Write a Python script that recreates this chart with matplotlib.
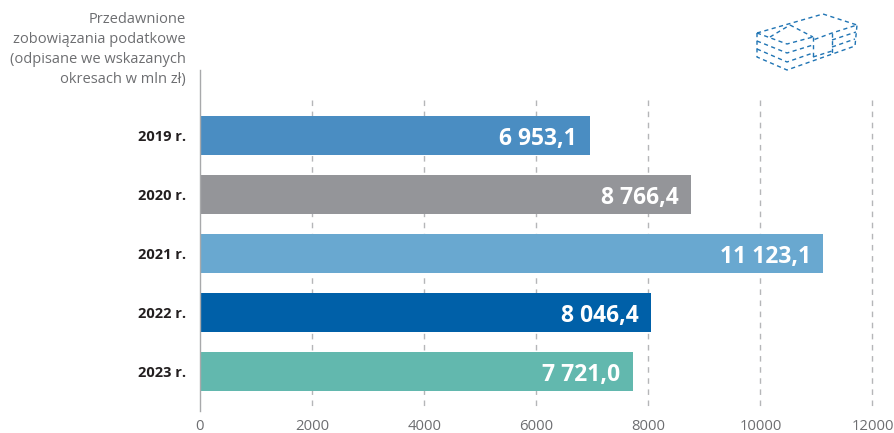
import matplotlib
matplotlib.use('Agg')
import matplotlib.pyplot as plt

plt.rcParams['font.family'] = ['Open Sans', 'DejaVu Sans']

years = ['2019 r.', '2020 r.', '2021 r.', '2022 r.', '2023 r.']
values = [6953.1, 8766.4, 11123.1, 8046.4, 7721.0]
value_labels = ['6 953,1', '8 766,4', '11 123,1', '8 046,4', '7 721,0']
bar_colors = ['#4A8DC2', '#949599', '#69A8D0', '#0060A8', '#62B8AE']
xticks = [0, 2000, 4000, 6000, 8000, 10000, 12000]
header = 'Przedawnione\nzobowiązania podatkowe\n(odpisane we wskazanych\nokresach w mln zł)'

W, H = 895, 433
y0 = 135.9
fig = plt.figure(figsize=(W / 100, H / 100), dpi=100)
ax = fig.add_axes([200 / W, (H - 411) / H, 672.5 / W, 341 / H])

ax.set_xlim(0, 12000)
ax.set_ylim((411 - y0) / 59, (70 - y0) / 59)

ax.vlines(xticks[1:], (100 - y0) / 59, ax.get_ylim()[0], color='#B5B6B8',
	linewidth=1, linestyles=(0, (4, 4)), zorder=1, clip_on=False)
ax.barh(range(len(years)), values, height=39 / 59, color=bar_colors, zorder=2)

for i, (val, lab) in enumerate(zip(values, value_labels)):
	ax.annotate(lab, (val, i), xytext=(-9, 0), textcoords='offset points', ha='right',
		va='center_baseline', color='white', fontsize=16.5, fontweight='bold', zorder=3)

for s in ['top', 'right', 'bottom']:
	ax.spines[s].set_visible(False)
ax.spines['left'].set_color('#A8A9AB')
ax.spines['left'].set_linewidth(1)

ax.set_xticks(xticks)
ax.set_xticklabels([str(t) for t in xticks], fontsize=10.7, color='#6D6E71')
ax.set_yticks(range(len(years)))
ax.set_yticklabels(years, fontsize=10.5, fontweight='bold', color='#231F20')
ax.tick_params(axis='both', length=0)
ax.tick_params(axis='x', pad=6)
ax.tick_params(axis='y', pad=10)

fig.text(186 / W, 1 - 12 / H, header, ha='right', va='top', fontsize=10.55,
	color='#6D6E71', linespacing=1.46)

# dashed banknote bundle icon, in pixel coordinates of the figure
icon = fig.add_axes([0, 0, 1, 1], facecolor='none')
icon.set_xlim(0, W)
icon.set_ylim(H, 0)
icon.axis('off')
icon_paths = [
	[(757, 33), (823, 14), (857, 25), (832, 33), (813, 40)],
	[(757, 33), (787, 44), (813, 37)],
	[(757, 33), (757, 57), (787, 70), (855, 46), (857, 25)],
	[(757, 41), (787, 53), (813, 45)],
	[(757, 49), (787, 62), (813, 53)],
	[(813, 37), (813, 57)],
	[(832, 33), (832, 53)],
	[(832, 40), (856, 32)],
	[(832, 47), (855, 39)],
	[(790, 25), (813, 37)],
	[(770, 37), (790, 25)],
	[(813, 57), (832, 51)],
]
for path in icon_paths:
	icon.plot([p[0] for p in path], [p[1] for p in path], color='#1F74B4',
		linewidth=1.0, linestyle=(0, (3, 2.5)))

fig.savefig('out.png', dpi=100)
